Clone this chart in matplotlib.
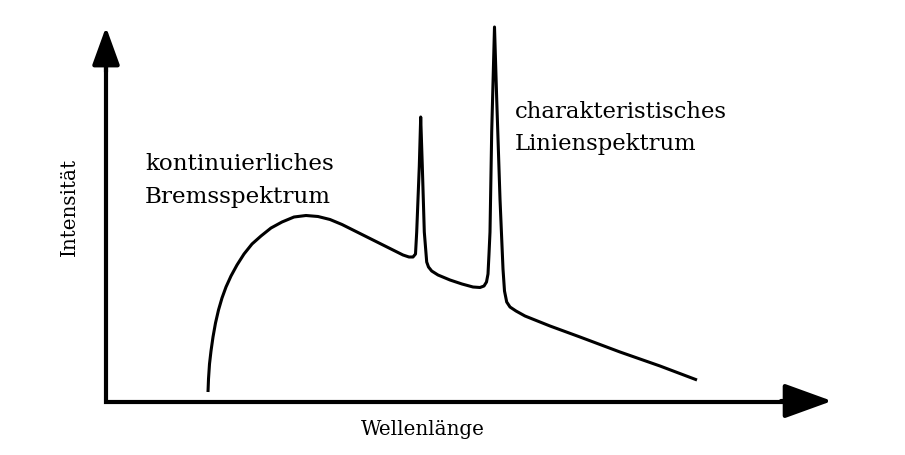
import numpy as np
import matplotlib
matplotlib.use('Agg')
import matplotlib.pyplot as plt

# spectrum trace (arbitrary units, origin at the axis corner)
wavelength = [102, 102.5, 103.5, 105, 107, 109.5, 112.5, 116, 120, 125, 131, 138, 146,
              155, 165, 176, 188, 200, 212, 224, 236, 249, 262, 275, 287, 297, 303,
              307, 309.5, 310.7, 313.3, 314.7, 316.3, 318.3, 320.7, 322.5, 325.7,
              332, 344, 356, 367, 374, 378, 380.5, 382, 383, 384, 385.7, 388.5,
              390.7, 394, 397, 398.5, 400.7, 404, 410, 419, 444, 474, 514, 554, 591]
intensity = [10, 23, 38, 51, 65, 79, 92, 104, 115, 126, 137, 148, 158,
             166, 174, 180, 185, 186.5, 185.5, 182.5, 177.5, 171, 164.5, 158, 152, 147, 145,
             145, 148, 170, 236, 285, 236, 170, 140, 135, 131,
             127, 122, 118, 115, 114.5, 116, 120, 128, 148, 170, 270, 375,
             303, 203, 133, 111, 100, 95, 91, 86, 76, 65, 50, 36, 22]

labels_left = ['kontinuierliches', 'Bremsspektrum']
labels_right = ['charakteristisches', 'Linienspektrum']
xlabel = 'Wellenlänge'
ylabel = 'Intensität'

fig = plt.figure(figsize=(9.05, 4.56), dpi=100)
ax = fig.add_axes([0, 0, 1, 1])
ax.set_xlim(-106, 799)
ax.set_ylim(-53, 403)
ax.axis('off')

ax.plot(wavelength, intensity, color='black', lw=2.2,
        solid_joinstyle='round', solid_capstyle='butt')

# axes with arrow heads
ax.plot([0, 0, 695], [345, 0, 0], color='black', lw=3.0, solid_joinstyle='miter')
ax.annotate('', xy=(0, 375), xytext=(0, 330),
            arrowprops=dict(arrowstyle='-|>,head_length=0.8,head_width=0.29',
                            color='black', lw=3.0, mutation_scale=29,
                            shrinkA=0, shrinkB=0))
ax.annotate('', xy=(726, 1), xytext=(675, 1),
            arrowprops=dict(arrowstyle='-|>,head_length=0.8,head_width=0.29',
                            color='black', lw=3.0, mutation_scale=37,
                            shrinkA=0, shrinkB=0))

font = 'DejaVu Serif'
ax.text(39, 233, labels_left[0], fontsize=16.6, family=font, va='baseline', ha='left')
ax.text(39, 200, labels_left[1], fontsize=16.6, family=font, va='baseline', ha='left')
ax.text(409, 285, labels_right[0], fontsize=16.4, family=font, va='baseline', ha='left')
ax.text(409, 253, labels_right[1], fontsize=16.4, family=font, va='baseline', ha='left')
ax.text(317, -27, xlabel, fontsize=14.3, family=font, va='center', ha='center')
ax.text(-37, 196, ylabel, fontsize=14.3, family=font, va='center', ha='center',
        rotation=90)

fig.savefig('out.png', dpi=100)
